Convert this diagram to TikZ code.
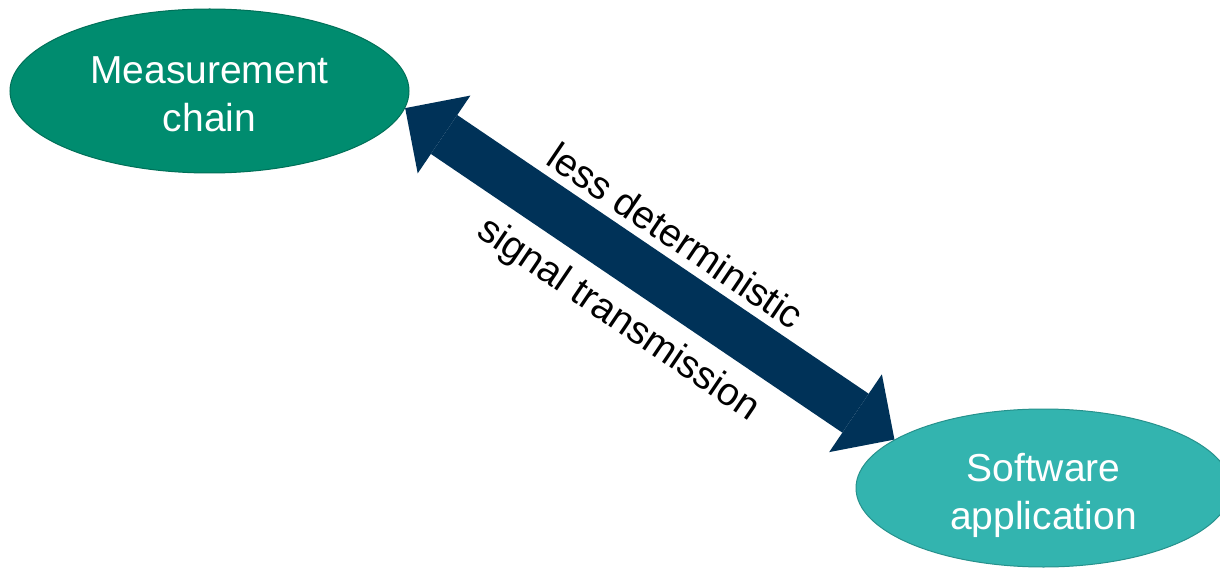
\documentclass[tikz,border=0pt]{standalone}
\usepackage{fontspec}
\setmainfont{Liberation Sans}
\usetikzlibrary{arrows.meta,shapes.geometric}
\definecolor{mgreen}{RGB}{0,140,111}
\definecolor{mgreenb}{RGB}{0,112,88}
\definecolor{steal}{RGB}{51,180,175}
\definecolor{stealb}{RGB}{38,145,140}
\definecolor{navy}{RGB}{0,50,88}
\tikzset{
  bubble/.style={ellipse, inner sep=0pt, align=center, text=white,
    font=\fontsize{39}{48}\selectfont, line width=1pt},
  lbl/.style={inner sep=0pt, outer sep=0pt, font=\fontsize{39}{48}\selectfont, text=black},
  bigarrow/.style={draw=navy, line width=47pt,
    {Triangle[length=47pt,width=94pt,line width=0pt]}-{Triangle[length=47pt,width=94pt,line width=0pt]}}
}
\begin{document}
\begin{tikzpicture}[x=1pt,y=-1pt]
\useasboundingbox (0,0) rectangle (1220,569);
\node[bubble, fill=mgreen, draw=mgreenb, minimum width=399pt, minimum height=164pt,
  text height=81pt, text depth=0pt]
  (m) at (209.5,91) {Measurement\\chain};
\node[bubble, fill=steal, draw=stealb, minimum width=375pt, minimum height=158pt,
  text height=82pt, text depth=0pt]
  (s) at (1043.5,488) {Software\\application};
\draw[bigarrow] (m.-5.5) -- (s.162)
  node[lbl, midway, sloped, above=32pt] (l1) {less deterministic}
  node[lbl, midway, sloped, below=38pt] (l2) {signal transmission};
\end{tikzpicture}
\end{document}
